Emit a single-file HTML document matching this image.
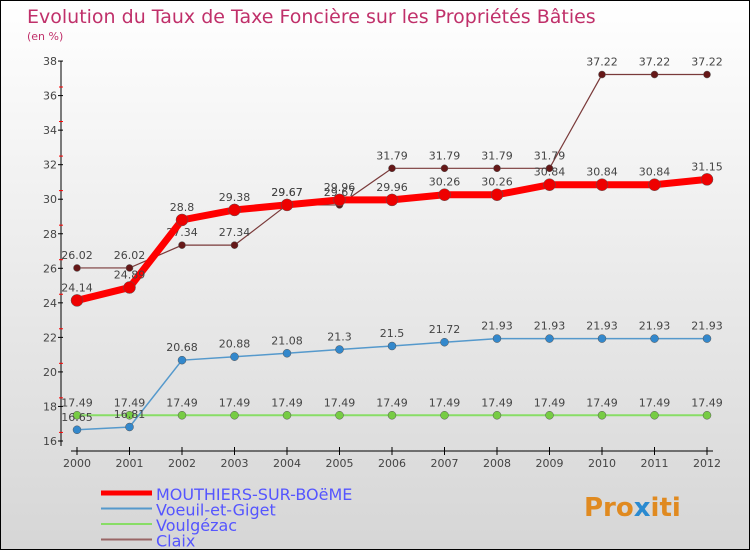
<!DOCTYPE html>
<html><head><meta charset="utf-8"><style>
body{margin:0}
#c{width:750px;height:550px;position:relative;background:linear-gradient(#fff,#d6d6d6);border:1px solid #000;box-sizing:border-box;font-family:"DejaVu Sans","Liberation Sans",sans-serif;overflow:hidden}
svg text{font-family:"DejaVu Sans","Liberation Sans",sans-serif}
</style></head><body>
<div id="c">
<svg id="s" width="750" height="550">
<text x="26" y="22" font-size="19" fill="#c0306a">Evolution du Taux de Taxe Foncière sur les Propriétés Bâties</text>
<text x="26" y="39" font-size="11" fill="#c0306a">(en %)</text>
<text x="583" y="515" font-size="26" font-weight="bold" fill="#e08a20">Pro<tspan fill="#2a8ad0">x</tspan>iti</text>
</svg>
</div>
<script>
const years=[2000,2001,2002,2003,2004,2005,2006,2007,2008,2009,2010,2011,2012];
const yTicks=[16,18,20,22,24,26,28,30,32,34,36,38];
const mouthiers=[24.14,24.89,28.8,29.38,29.67,29.96,29.96,30.26,30.26,30.84,30.84,30.84,31.15];
const voeuil=[16.65,16.81,20.68,20.88,21.08,21.3,21.5,21.72,21.93,21.93,21.93,21.93,21.93];
const voulgezac=[17.49,17.49,17.49,17.49,17.49,17.49,17.49,17.49,17.49,17.49,17.49,17.49,17.49];
const claix=[26.02,26.02,27.34,27.34,29.67,29.67,31.79,31.79,31.79,31.79,37.22,37.22,37.22];
const seriesNames=["MOUTHIERS-SUR-BOëME","Voeuil-et-Giget","Voulgézac","Claix"];
const NS="http://www.w3.org/2000/svg",s=document.getElementById('s');
const X=i=>76+i*52.5, Y=v=>440-(v-16)*17.27;
function el(t,a,p){const e=document.createElementNS(NS,t);for(const k in a)e.setAttribute(k,a[k]);(p||s).appendChild(e);return e;}
let e=el('line',{x1:60,y1:60,x2:60,y2:445,stroke:'#000'});


e=el('line',{x1:70,y1:450,x2:712,y2:450,stroke:'#000'});


yTicks.forEach(v=>{const y=Y(v);
 el('line',{x1:57,y1:y,x2:62,y2:y,stroke:'#000'});
 if(v<38) el('line',{x1:58,y1:y-8.6,x2:62,y2:y-8.6,stroke:'#f00'});
 const t=el('text',{x:56,y:y+4,'font-size':11,fill:'#444','text-anchor':'end'});t.textContent=v;
 
 
});
years.forEach((yr,i)=>{el('line',{x1:X(i),y1:446,x2:X(i),y2:454,stroke:'#000'});
 const t=el('text',{x:X(i),y:466,'font-size':11,fill:'#444','text-anchor':'middle'});t.textContent=yr;
 
 
});
function series(d,col,w,r,dot,name,lab){
 const g=el('g',{});
 
 
 el('polyline',{points:d.map((v,i)=>X(i)+','+Y(v)).join(' '),fill:'none',stroke:col,'stroke-width':w},g);
 d.forEach((v,i)=>{const c=el('circle',{cx:X(i),cy:Y(v),r:r,fill:dot,stroke:'#555','stroke-width':0.5},g);
  
  
  const t=el('text',{x:X(i),y:Y(v)-9,'font-size':11,fill:'#444','text-anchor':'middle'},g);t.textContent=lab?lab(v):v;
  
  
 });
}
series(voulgezac,'#88dd66',2,4,'#77cc44','voulgezac-series');
series(voeuil,'#5599cc',1.5,4,'#3388cc','voeuil-series');
series(claix,'#7a3a3a',1.2,3.5,'#661818','claix-series');
series(mouthiers,'#ff0000',7,6,'#ee0000','mouthiers-series');
const cols=['#ff0000','#5599cc','#88dd66','#996666'],ws=[5,2,2,2];
seriesNames.forEach((n,i)=>{const y=492+i*15.5;
 const g=el('g',{});
 
 
 el('line',{x1:100,y1:y,x2:151,y2:y,stroke:cols[i],'stroke-width':ws[i]},g);
 const t=el('text',{x:155,y:y+7,'font-size':16,fill:'#5555ff'},g);t.textContent=n;
});
</script>
</body></html>
